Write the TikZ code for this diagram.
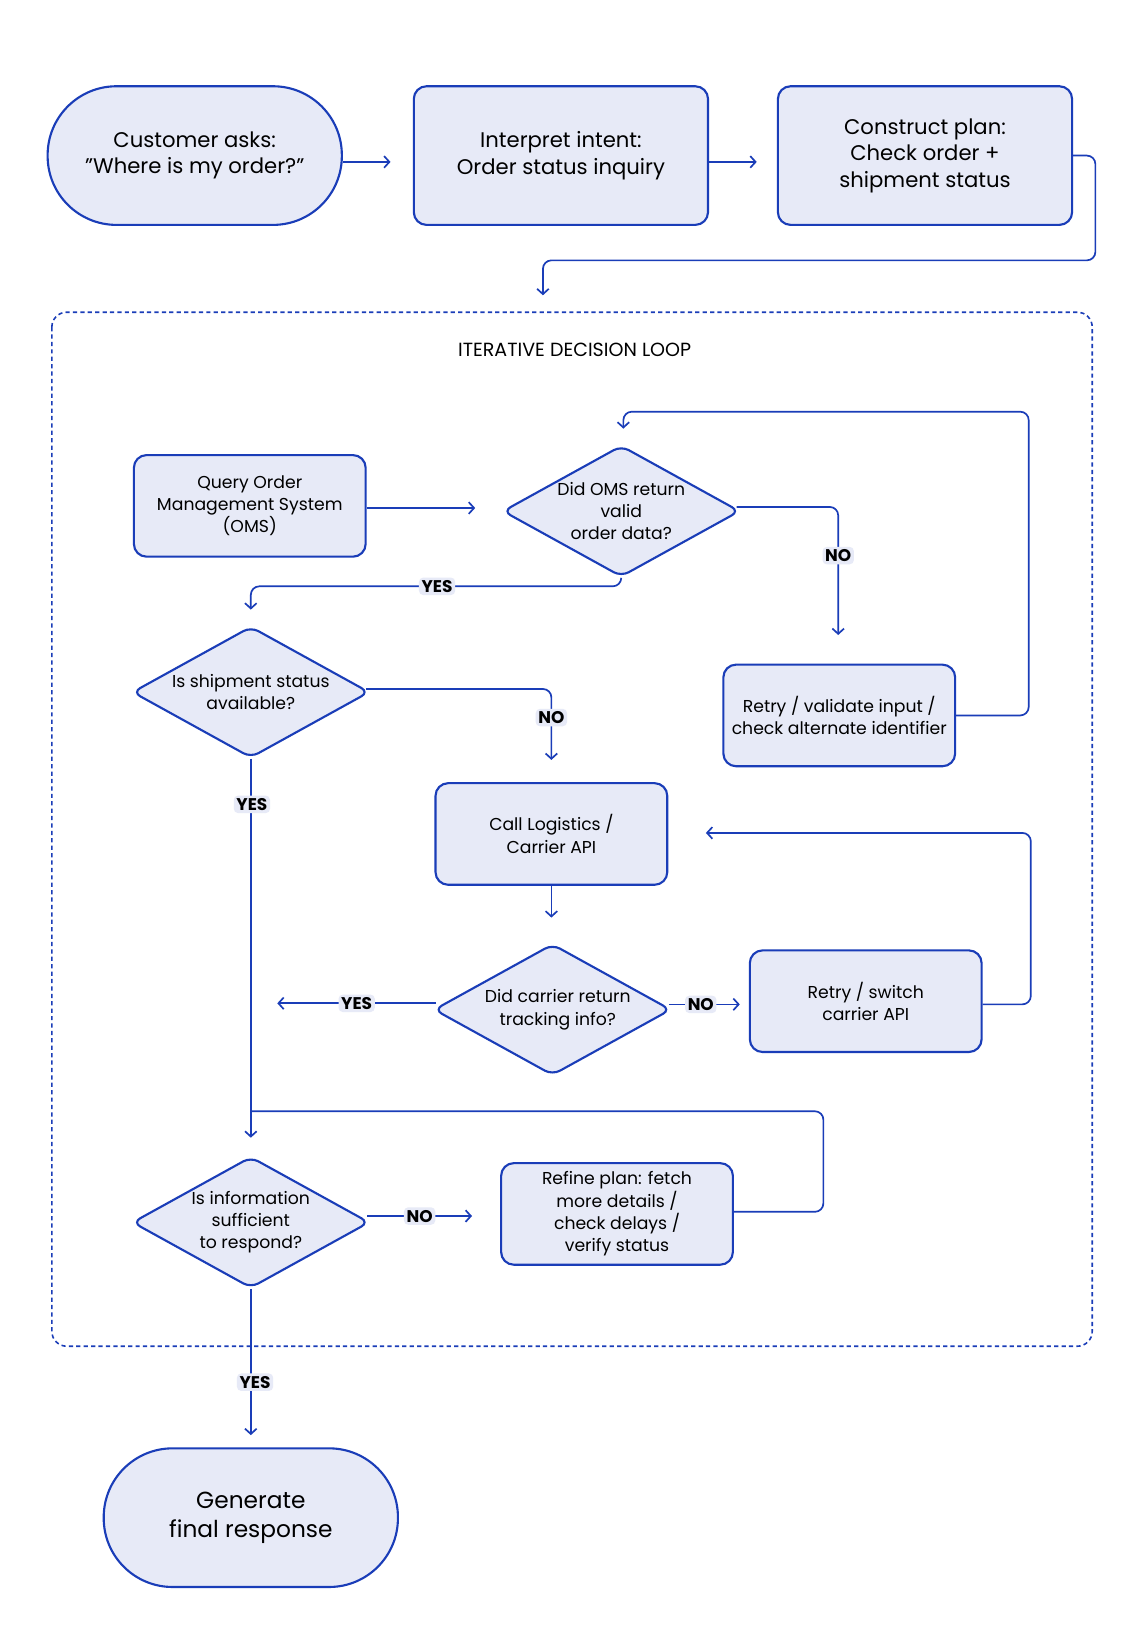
\documentclass[tikz,border=0pt]{standalone}
\usepackage{fontspec}
\setmainfont{Poppins}
\usetikzlibrary{shapes.geometric,arrows.meta}
\definecolor{bl}{HTML}{1A3DB8}
\definecolor{fl}{HTML}{E7EAF7}
\begin{document}
\begin{tikzpicture}[x=1pt,y=-1pt,
  line width=1.6pt,
  arr/.style={draw=bl,-{Straight Barb[length=5pt,width=11pt]}},
  ln/.style={draw=bl},
  big/.style={font=\fontsize{20}{25}\selectfont,align=center},
  sm/.style={font=\fontsize{16.3}{21}\selectfont,align=center},
  stad/.style={draw=bl,fill=fl,rounded corners=65pt,minimum width=278pt,minimum height=131pt,line width=2pt,big},
  rbig/.style={draw=bl,fill=fl,rounded corners=12pt,minimum width=278pt,minimum height=131pt,line width=2pt,big},
  rsm/.style={draw=bl,fill=fl,rounded corners=12pt,minimum width=219pt,minimum height=96pt,line width=2pt,sm},
  dia/.style={draw=bl,fill=fl,shape=diamond,aspect=1.806,minimum width=224pt,minimum height=124pt,inner sep=0pt,line width=2pt,rounded corners=8pt},
  lab/.style={fill=fl,rounded corners=4pt,inner sep=2.5pt,font=\fontsize{16}{17}\selectfont\bfseries}]
\useasboundingbox[fill=white] (0,0) rectangle (1080,1560);
% top row
\node[stad] (cust) at (184,147) {Customer asks:\\\symbol{34}Where is my order?\symbol{34}};
\node[rbig] (intp) at (530,147) {Interpret intent:\\Order status inquiry};
\node[rbig] (cons) at (874,147) {Construct plan:\\Check order +\\shipment status};
\coordinate (cA) at (369,153);
\coordinate (cB) at (715,153);
\coordinate (cC) at (513,279);
\draw[arr] (cust.east |- cA) -- (cA);
\draw[arr] (intp.east |- cB) -- (cB);
\draw[arr,rounded corners=8pt] (cons.east) -- (1035,147) -- (1035,246) -- (513,246) -- (cC);
% loop box
\draw[bl,line width=1.5pt,dash pattern=on 4pt off 3pt,rounded corners=14pt] (49,295) rectangle (1032,1272);
\node[font=\fontsize{18}{19}\selectfont] (title) at (543,331) {ITERATIVE DECISION LOOP};
% OMS
\node[rsm] (qoms) at (236,478) {Query Order\\Management System\\(OMS)};
\node[dia] (doms) at (587,483) {};
\node[sm] at (587,483) {Did OMS return\\valid\\order data?};
\coordinate (c1) at (449,480);
\draw[arr] (qoms.east |- c1) -- (c1);
\node[rsm] (rval) at (793,676) {Retry / validate input /\\check alternate identifier};
\coordinate (c2) at (792,600);
\draw[arr,rounded corners=8pt] (696,479) -- (792,479) -- (c2) node[lab,pos=0.38] {NO};
\coordinate (c3) at (589,405);
\draw[arr,rounded corners=8pt] (rval.east) -- (972,676) -- (972,389) -- (589,389) -- (c3);
% shipment
\node[dia] (dship) at (237,654) {};
\node[sm] at (237,654) {Is shipment status\\available?};
\coordinate (c4) at (237,576);
\draw[arr,rounded corners=8pt] (doms.south) -- (587,554) -- (237,554) -- (c4);
\node[lab] at (413,554) {YES};
\node[rsm] (call) at (521,788) {Call Logistics /\\Carrier API};
\coordinate (c5) at (521,718);
\draw[arr,rounded corners=8pt] (346,651) -- (521,651) -- (c5);
\node[lab] at (521,678) {NO};
\coordinate (c6) at (521,867);
\draw[arr] (call.south) -- (c6);
% carrier
\node[dia] (dcar) at (522,954) {};
\node[sm] at (527,954) {Did carrier return\\tracking info?};
\coordinate (c7) at (262,948);
\draw[arr] (412,948) -- (c7) node[lab,midway] {YES};
\node[rsm] (rsw) at (818,946) {Retry / switch\\carrier API};
\coordinate (c8) at (699,949);
\draw[arr] (632,949) -- (c8) node[lab,pos=0.45] {NO};
\coordinate (c9) at (667,787);
\draw[arr,rounded corners=8pt] (rsw.east |- c8) -- (974,949) -- (974,787) -- (c9);
% info
\node[dia] (dinf) at (237,1155) {};
\node[sm] at (237,1155) {Is information\\sufficient\\to respond?};
\coordinate (c10) at (237,1075);
\draw[arr] (dship.south) -- (c10);
\node[lab] at (238,760) {YES};
\node[rsm] (ref) at (583,1147) {Refine plan: fetch\\more details /\\check delays /\\verify status};
\coordinate (c11) at (237,1050);
\draw[ln,rounded corners=8pt] (ref.east |- 0,1145) -- (778,1145) -- (778,1050) -- (c11);
\coordinate (c12) at (446,1149);
\draw[arr] (347,1149) -- (c12) node[lab,midway] {NO};
% final
\node[stad,font=\fontsize{22}{28}\selectfont] (gen) at (237,1434) {Generate\\final response};
\coordinate (c13) at (237,1356);
\draw[arr] (dinf.south) -- (c13);
\node[lab] at (241,1306) {YES};
\end{tikzpicture}
\end{document}
